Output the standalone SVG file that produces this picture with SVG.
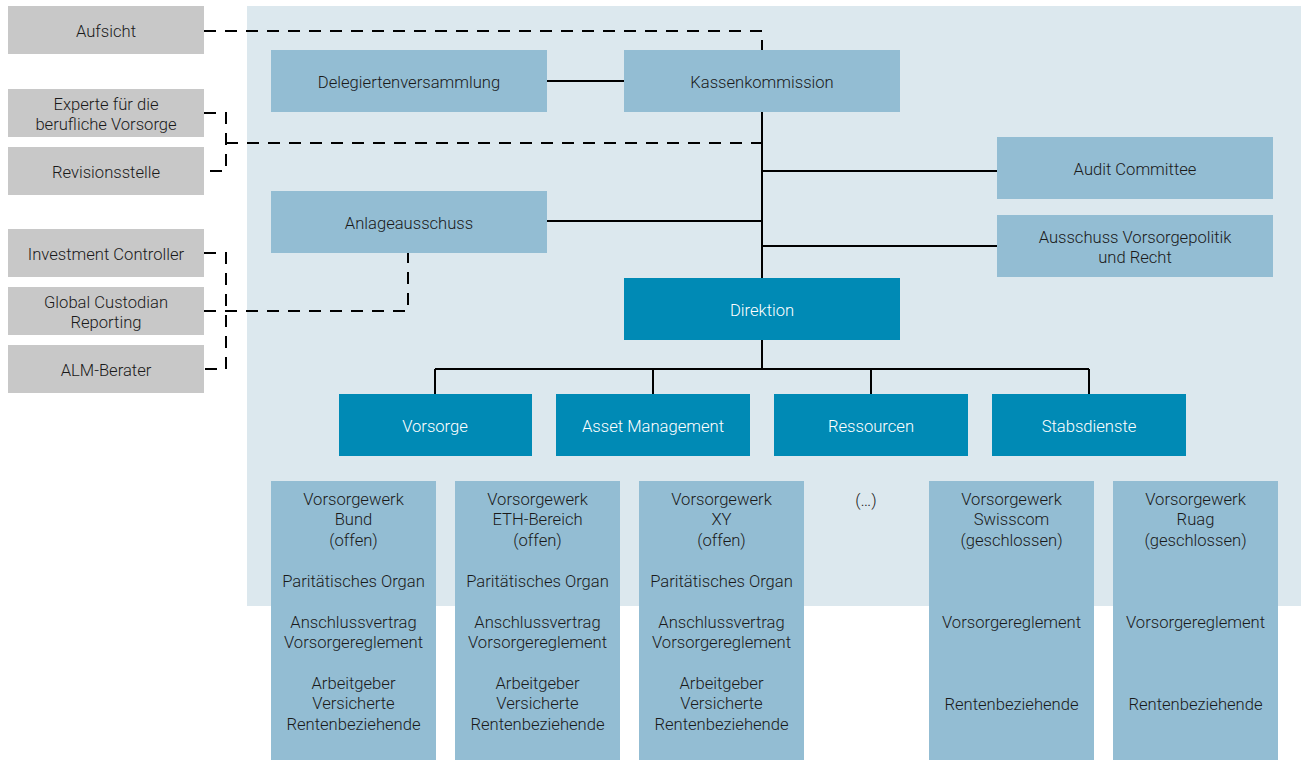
<svg xmlns="http://www.w3.org/2000/svg" width="1301" height="760" viewBox="0 0 1301 760">
<style>
.t{font-family:Roboto,"Open Sans","Liberation Sans",sans-serif;font-size:16.6px;font-weight:300;fill:#1a1a1a;text-anchor:middle;dominant-baseline:central}
.w{fill:#ffffff}
.g{fill:#c8c8c8}
.m{fill:#93bdd3}
.d{fill:#008ab5}
.s{stroke:#000;stroke-width:2;fill:none}
.ds{stroke:#000;stroke-width:2;fill:none;stroke-dasharray:12,9}
</style>
<rect x="247" y="6" width="1054" height="600" fill="#dce8ee"/>
<g id="connectors">
<path class="s" d="M547 81H624M762 112V278M762 171H997M547 221H762M762 246H997M762 340V369M435 369H1089M435 369V394M653 369V394M871 369V394M1089 369V394"/>
<path class="ds" d="M204 31H762V50"/>
<path class="ds" d="M204 113H226V171H204M226 143H762"/>
<path class="ds" d="M204 253H226V369H204M204 311H408V253"/>
</g>
<g id="aufsicht"><rect class="g" x="8" y="6" width="196" height="48"/><text class="t" x="106" y="31">Aufsicht</text></g>
<g id="experte"><rect class="g" x="8" y="89" width="196" height="48"/><text class="t" x="106" y="104">Experte für die</text><text class="t" x="106" y="124">berufliche Vorsorge</text></g>
<g id="revision"><rect class="g" x="8" y="147" width="196" height="48"/><text class="t" x="106" y="172">Revisionsstelle</text></g>
<g id="investment"><rect class="g" x="8" y="229" width="196" height="48"/><text class="t" x="106" y="254">Investment Controller</text></g>
<g id="custodian"><rect class="g" x="8" y="287" width="196" height="48"/><text class="t" x="106" y="302">Global Custodian</text><text class="t" x="106" y="322">Reporting</text></g>
<g id="alm"><rect class="g" x="8" y="345" width="196" height="48"/><text class="t" x="106" y="370">ALM-Berater</text></g>
<g id="delegierte"><rect class="m" x="271" y="50" width="276" height="62"/><text class="t" x="409" y="82">Delegiertenversammlung</text></g>
<g id="kassenkommission"><rect class="m" x="624" y="50" width="276" height="62"/><text class="t" x="762" y="82">Kassenkommission</text></g>
<g id="audit"><rect class="m" x="997" y="137" width="276" height="62"/><text class="t" x="1135" y="169">Audit Committee</text></g>
<g id="anlage"><rect class="m" x="271" y="191" width="276" height="62"/><text class="t" x="409" y="223">Anlageausschuss</text></g>
<g id="ausschuss"><rect class="m" x="997" y="215" width="276" height="62"/><text class="t" x="1135" y="237">Ausschuss Vorsorgepolitik</text><text class="t" x="1135" y="257">und Recht</text></g>
<g id="direktion"><rect class="d" x="624" y="278" width="276" height="62"/><text class="t w" x="762" y="310">Direktion</text></g>
<g id="vorsorge"><rect class="d" x="339" y="394" width="193" height="62"/><text class="t w" x="435" y="426">Vorsorge</text></g>
<g id="asset"><rect class="d" x="556" y="394" width="194" height="62"/><text class="t w" x="653" y="426">Asset Management</text></g>
<g id="ressourcen"><rect class="d" x="774" y="394" width="194" height="62"/><text class="t w" x="871" y="426">Ressourcen</text></g>
<g id="stabsdienste"><rect class="d" x="992" y="394" width="194" height="62"/><text class="t w" x="1089" y="426">Stabsdienste</text></g>
<g id="vw-bund"><rect class="m" x="271" y="481" width="165" height="279"/>
<text class="t" x="353.5" y="499">Vorsorgewerk</text><text class="t" x="353.5" y="519">Bund</text><text class="t" x="353.5" y="540">(offen)</text>
<text class="t" x="353.5" y="581">Paritätisches Organ</text>
<text class="t" x="353.5" y="622">Anschlussvertrag</text><text class="t" x="353.5" y="642">Vorsorgereglement</text>
<text class="t" x="353.5" y="683">Arbeitgeber</text><text class="t" x="353.5" y="703">Versicherte</text><text class="t" x="353.5" y="724">Rentenbeziehende</text></g>
<g id="vw-eth"><rect class="m" x="455" y="481" width="165" height="279"/>
<text class="t" x="537.5" y="499">Vorsorgewerk</text><text class="t" x="537.5" y="519">ETH-Bereich</text><text class="t" x="537.5" y="540">(offen)</text>
<text class="t" x="537.5" y="581">Paritätisches Organ</text>
<text class="t" x="537.5" y="622">Anschlussvertrag</text><text class="t" x="537.5" y="642">Vorsorgereglement</text>
<text class="t" x="537.5" y="683">Arbeitgeber</text><text class="t" x="537.5" y="703">Versicherte</text><text class="t" x="537.5" y="724">Rentenbeziehende</text></g>
<g id="vw-xy"><rect class="m" x="639" y="481" width="165" height="279"/>
<text class="t" x="721.5" y="499">Vorsorgewerk</text><text class="t" x="721.5" y="519">XY</text><text class="t" x="721.5" y="540">(offen)</text>
<text class="t" x="721.5" y="581">Paritätisches Organ</text>
<text class="t" x="721.5" y="622">Anschlussvertrag</text><text class="t" x="721.5" y="642">Vorsorgereglement</text>
<text class="t" x="721.5" y="683">Arbeitgeber</text><text class="t" x="721.5" y="703">Versicherte</text><text class="t" x="721.5" y="724">Rentenbeziehende</text></g>
<g id="ellipsis"><text class="t" x="866" y="500">(…)</text></g>
<g id="vw-swisscom"><rect class="m" x="929" y="481" width="165" height="279"/>
<text class="t" x="1011.5" y="499">Vorsorgewerk</text><text class="t" x="1011.5" y="519">Swisscom</text><text class="t" x="1011.5" y="540">(geschlossen)</text>
<text class="t" x="1011.5" y="622">Vorsorgereglement</text><text class="t" x="1011.5" y="704">Rentenbeziehende</text></g>
<g id="vw-ruag"><rect class="m" x="1113" y="481" width="165" height="279"/>
<text class="t" x="1195.5" y="499">Vorsorgewerk</text><text class="t" x="1195.5" y="519">Ruag</text><text class="t" x="1195.5" y="540">(geschlossen)</text>
<text class="t" x="1195.5" y="622">Vorsorgereglement</text><text class="t" x="1195.5" y="704">Rentenbeziehende</text></g>
</svg>
